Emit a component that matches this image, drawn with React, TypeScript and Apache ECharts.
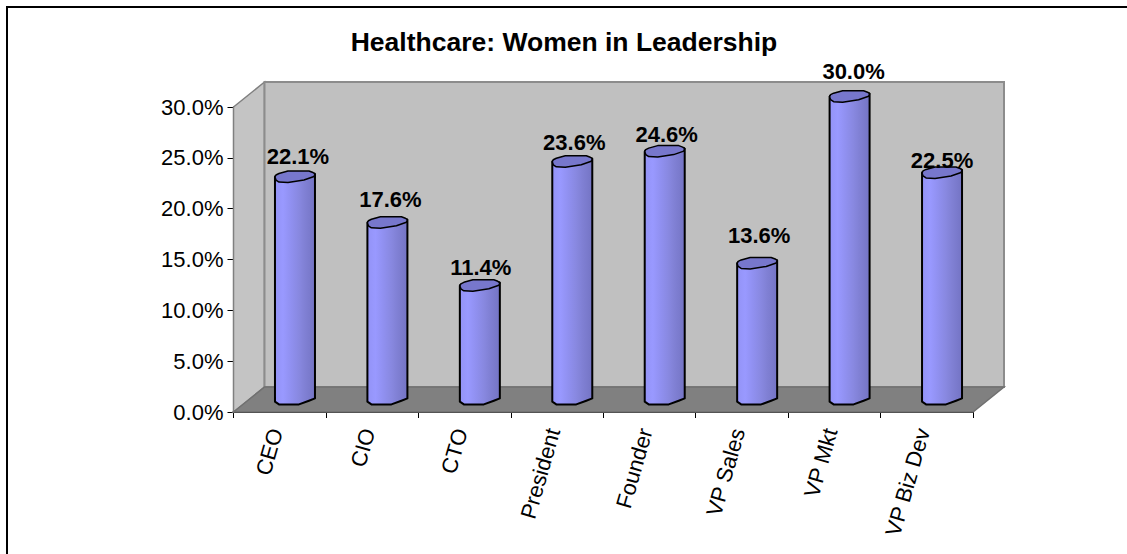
import React, { useEffect, useRef } from "react";
import * as echarts from "echarts";

const categories = ["CEO", "CIO", "CTO", "President", "Founder", "VP Sales", "VP Mkt", "VP Biz Dev"];
const values = [22.1, 17.6, 11.4, 23.6, 24.6, 13.6, 30.0, 22.5];
const yMax = 30;
const yStep = 5;
const titleText = "Healthcare: Women in Leadership";

const DEPTH_X = 31;
const DEPTH_Y = -25;
const FONT = '"Liberation Sans", Arial, sans-serif';
// hand placement of the value labels, which the original does not set at a constant distance
const labelNudgeX = [0, 0, -2, -1, -1, -1, 1, -3];
const labelNudgeY = [0, -2, 3, 2, 4, -7, -4, 9];

const rel = (x: number, y: number, pts: number[][]) => pts.map(([a, b]) => [x + a, y + b]);

const renderBar = (params: any, api: any) => {
  const i = api.value(0);
  const v = api.value(1);
  const top = api.coord([i, v]);
  const base = api.coord([i, 0]);
  const x0 = top[0] - 4.75;
  const yTop = top[1] - 10.3;
  const yBase = base[1] - 10.3;
  const bodyPts = [
    ...rel(x0, yTop, [[0, 0], [0.5, -1], [39.5, -3.5], [40, -3]]),
    ...rel(x0, yBase, [[40, -3.3], [34, -1], [24, 2.7], [4, 2.7], [0, 0]]),
  ];
  const capPts = rel(x0, yTop, [
    [0, 0], [1, -2], [4, -3.5], [13, -6], [34, -6], [38, -4.5], [40, -3],
    [39, -0.5], [29, 3], [13, 5.5], [4, 5], [1, 3],
  ]);
  const grad = new echarts.graphic.LinearGradient(0, 0, 1, 0, [
    { offset: 0, color: "#9393f6" },
    { offset: 0.2, color: "#9999ff" },
    { offset: 0.4, color: "#9090f0" },
    { offset: 0.6, color: "#8888e0" },
    { offset: 0.75, color: "#8080d4" },
    { offset: 1, color: "#7474c4" },
  ]);
  return {
    type: "group",
    children: [
      { type: "polygon", shape: { points: bodyPts }, style: { fill: grad, stroke: "#000", lineWidth: 2, lineJoin: "round" } },
      { type: "polygon", shape: { points: capPts }, style: { fill: "#7777cc", stroke: "#000", lineWidth: 1.5, lineJoin: "round" } },
      {
        type: "text",
        z2: 10,
        style: {
          x: x0 + 23 + labelNudgeX[i],
          y: yTop - 21 + labelNudgeY[i],
          text: v.toFixed(1) + "%",
          fill: "#000",
          font: `bold 22px ${FONT}`,
          align: "center",
          verticalAlign: "middle",
        },
      },
    ],
  };
};

const renderWalls = (params: any, api: any) => {
  const band = api.size([1, 0])[0];
  const first = api.coord([0, 0]);
  const last = api.coord([categories.length - 1, yMax]);
  const l = first[0] - band / 2;
  const b = first[1];
  const r = last[0] + band / 2;
  const t = last[1];
  return {
    type: "group",
    children: [
      {
        type: "polygon",
        shape: { points: [[l, t], [l + DEPTH_X, t + DEPTH_Y], [l + DEPTH_X, b + DEPTH_Y], [l, b]] },
        style: { fill: "#c4c4c4", stroke: "#808080", lineWidth: 1.5 },
      },
      {
        type: "rect",
        shape: { x: l + DEPTH_X, y: t + DEPTH_Y, width: r - l, height: b - t },
        style: { fill: "#c0c0c0", stroke: "#8c8c8c", lineWidth: 2 },
      },
      {
        type: "polygon",
        shape: { points: [[l, b], [l + DEPTH_X, b + DEPTH_Y], [r + DEPTH_X, b + DEPTH_Y], [r, b]] },
        style: { fill: "#808080", stroke: "#707070", lineWidth: 1.5 },
      },
    ],
  };
};

export default function App() {
  const ref = useRef<HTMLDivElement>(null);
  useEffect(() => {
    document.body.style.margin = "0";
    const chart = echarts.init(ref.current!, null, { renderer: "svg" });
    chart.setOption({
      animation: false,
      backgroundColor: "#ffffff",
      title: {
        text: titleText,
        left: 559,
        top: 23,
        textAlign: "center",
        textStyle: { fontFamily: FONT, fontWeight: "bold", fontSize: 26.5, color: "#000" },
      },
      graphic: [
        {
          type: "line",
          silent: true,
          shape: { x1: 7, y1: 7, x2: 1127, y2: 7 },
          style: { stroke: "#000", lineWidth: 2 },
        },
        {
          type: "line",
          silent: true,
          shape: { x1: 7, y1: 6, x2: 7, y2: 554 },
          style: { stroke: "#000", lineWidth: 2 },
        },
      ],
      grid: { left: 233.5, right: 154, top: 107, bottom: 142 },
      xAxis: {
        type: "category",
        data: categories,
        boundaryGap: true,
        axisLine: { lineStyle: { color: "#000", width: 2 } },
        axisTick: { show: true, length: 6, lineStyle: { color: "#000", width: 1 } },
        axisLabel: {
          rotate: 74,
          interval: 0,
          margin: 18,
          formatter: (v: string) => `{a|${v}}`,
          rich: { a: { padding: [0, 0, 8, 0], fontFamily: FONT, fontSize: 22, color: "#000" } },
        },
      },
      yAxis: {
        type: "value",
        min: 0,
        max: yMax,
        interval: yStep,
        splitLine: { show: false },
        axisLine: { show: true, lineStyle: { color: "#555", width: 2 } },
        axisTick: { show: true, length: 6, lineStyle: { color: "#000", width: 1 } },
        axisLabel: {
          margin: 10,
          fontFamily: FONT,
          fontSize: 22,
          color: "#000",
          formatter: (v: number) => v.toFixed(1) + "%",
        },
      },
      series: [
        {
          type: "custom",
          name: "walls",
          z: 1,
          silent: true,
          renderItem: renderWalls,
          data: [[0, 0]],
          encode: { x: 0, y: 1 },
        },
        {
          type: "custom",
          name: "Women in Leadership",
          z: 2,
          renderItem: renderBar,
          data: values.map((v, i) => [i, v]),
          encode: { x: 0, y: 1 },
        },
      ],
    });
    return () => chart.dispose();
  }, []);
  return <div ref={ref} style={{ width: 1127, height: 554 }} />;
}
